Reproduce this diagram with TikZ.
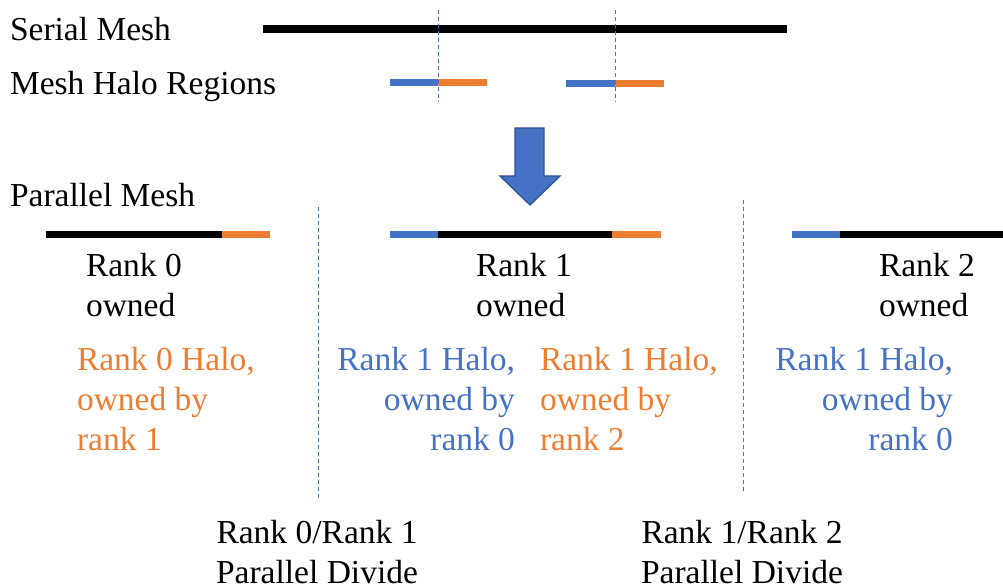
\documentclass[tikz,border=0pt]{standalone}
\usepackage{fontspec}
\setmainfont{Liberation Serif}
\definecolor{haloblue}{HTML}{4472C4}
\definecolor{haloorange}{HTML}{ED7D31}
\definecolor{arrowedge}{HTML}{2F528F}
\begin{document}
\begin{tikzpicture}[x=1pt,y=-1pt,
  every node/.style={inner sep=0pt,outer sep=0pt,font=\fontsize{33.5}{40}\selectfont},
  seg/.style={line width=7.5pt},
  owned/.style={seg,black},
  haloL/.style={seg,haloblue},
  haloR/.style={seg,haloorange},
  divider/.style={haloblue,line width=0.9pt,dash pattern=on 4pt off 3pt},
  label/.style={anchor=base west,align=left},
  bluetxt/.style={anchor=base east,align=right,text=haloblue},
  orangetxt/.style={anchor=base west,align=left,text=haloorange},
  dividetxt/.style={anchor=base,align=center},
  bigarrow/.style={fill=haloblue,draw=arrowedge,line width=1.3pt,line join=miter}]
\useasboundingbox (0,0) rectangle (1003,588);

% row labels
\node[label] (serial) at (10,41) {Serial Mesh};
\node[label] (halos) at (10,95) {Mesh Halo Regions};
\node[label] (parallel) at (10,206) {Parallel Mesh};

% serial mesh
\draw[owned] (263,29) -- (787,29);

% halo regions around the two cut points
\draw[haloL] (390,82.5) -- (438,82.5);
\draw[haloR] (438,82.5) -- (487,82.5);
\draw[haloL] (566,83.5) -- (615,83.5);
\draw[haloR] (615,83.5) -- (664,83.5);

% cut points
\draw[divider] (438,10) -- (438,102);
\draw[divider] (615,10) -- (615,102);

% partition arrow
\draw[bigarrow] (515,128) -- (544,128) -- (544,176) -- (560,176) -- (530,205)
  -- (500,176) -- (515,176) -- cycle;

% rank 0 partition
\draw[owned] (46,234.5) -- (222,234.5);
\draw[haloR] (222,234.5) -- (270,234.5);
% rank 1 partition
\draw[haloL] (390,234.5) -- (438,234.5);
\draw[owned] (438,234.5) -- (612,234.5);
\draw[haloR] (612,234.5) -- (661,234.5);
% rank 2 partition
\draw[haloL] (792,234.5) -- (840,234.5);
\draw[owned] (840,234.5) -- (1003,234.5);

% parallel divides
\draw[divider] (318,207) -- (318,500);
\draw[divider] (743,200) -- (743,493);

% ownership labels (anchored at the baseline of their last line)
\node[label] (own0) at (86,316) {Rank 0\\owned};
\node[label] (own1) at (476,316) {Rank 1\\owned};
\node[label] (own2) at (879,316) {Rank 2\\owned};

\node[orangetxt] (h0) at (77,450) {Rank 0 Halo,\\owned by\\rank 1};
\node[bluetxt] (h1a) at (515,450) {Rank 1 Halo,\\owned by\\rank 0};
\node[orangetxt] (h1b) at (540,450) {Rank 1 Halo,\\owned by\\rank 2};
\node[bluetxt] (h2) at (953,450) {Rank 1 Halo,\\owned by\\rank 0};

\node[dividetxt] (d01) at (317,583) {Rank 0/Rank 1\\Parallel Divide};
\node[dividetxt] (d12) at (742,583) {Rank 1/Rank 2\\Parallel Divide};
\end{tikzpicture}
\end{document}
